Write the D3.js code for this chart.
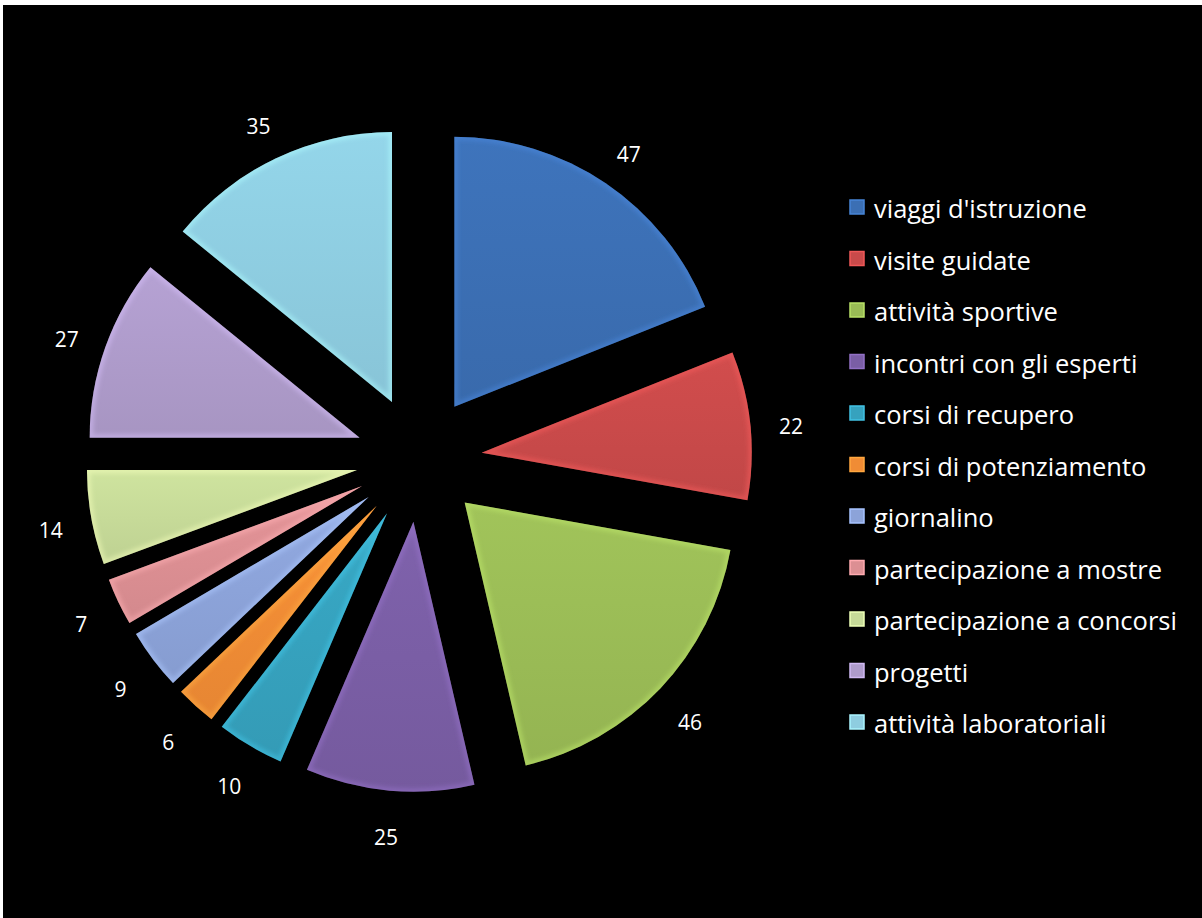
<!DOCTYPE html>
<html>
<head>
<meta charset="utf-8">
<script src="https://cdn.jsdelivr.net/npm/d3@7"></script>
<style>
  html, body { margin: 0; padding: 0; background: #fff; }
  svg { display: block; }
</style>
</head>
<body>
<svg id="chart"></svg>
<script>
// Chart data
const categories = [
    "viaggi d'istruzione", 'visite guidate', 'attività sportive', 'incontri con gli esperti',
    'corsi di recupero', 'corsi di potenziamento', 'giornalino', 'partecipazione a mostre',
    'partecipazione a concorsi', 'progetti', 'attività laboratoriali'
];
const values = [47, 22, 46, 25, 10, 6, 9, 7, 14, 27, 35];
const colors = [
    '#3b6fb4', '#c94a4a', '#9abc56', '#7a5ea5', '#36a2be', '#f08c35',
    '#8ca3d9', '#dc8f93', '#c6da98', '#ae9bcb', '#8ecde0'
];

const width = 1202;
const height = 918;
const cx = 419, cy = 459;
const radius = 270;
const explode = 63;
const labelRadius = 374;

const svg = d3.select('#chart')
    .attr('width', width)
    .attr('height', height);

// black plot area (thin white strip on top / left as in the original)
svg.append('rect')
    .attr('x', 3).attr('y', 5)
    .attr('width', width - 3).attr('height', height - 5)
    .attr('fill', '#000');

const defs = svg.append('defs');
defs.append('filter')
    .attr('id', 'soft')
    .attr('x', '-10%').attr('y', '-10%').attr('width', '120%').attr('height', '120%')
    .append('feGaussianBlur').attr('stdDeviation', 2.2);

const pie = d3.pie().sort(null).value(d => d)(values);
const arc = d3.arc().innerRadius(0).outerRadius(radius);

const g = svg.append('g').attr('transform', `translate(${cx},${cy})`);

const slices = g.selectAll('.slice')
    .data(pie)
    .enter()
    .append('g')
    .attr('class', 'slice')
    .attr('transform', d => {
        const a = (d.startAngle + d.endAngle) / 2;
        return `translate(${Math.sin(a) * explode},${-Math.cos(a) * explode})`;
    });

// clip paths so the bevel glow stays inside each slice
slices.each(function(d, i) {
    defs.append('clipPath')
        .attr('id', 'clip' + i)
        .append('path')
        .attr('d', arc(d));
    const grad = defs.append('linearGradient')
        .attr('id', 'grad' + i)
        .attr('x1', '0').attr('y1', '0').attr('x2', '0').attr('y2', '1');
    grad.append('stop').attr('offset', '0%').attr('stop-color', d3.color(colors[i]).brighter(0.12));
    grad.append('stop').attr('offset', '100%').attr('stop-color', d3.color(colors[i]).darker(0.12));
});

slices.append('path')
    .attr('d', arc)
    .attr('fill', (d, i) => `url(#grad${i})`);

slices.append('path')
    .attr('d', arc)
    .attr('fill', 'none')
    .attr('stroke', (d, i) => d3.color(colors[i]).brighter(0.6))
    .attr('stroke-width', 7)
    .attr('stroke-opacity', 0.5)
    .attr('clip-path', (d, i) => `url(#clip${i})`)
    .attr('filter', 'url(#soft)');

// value labels
g.selectAll('.value-label')
    .data(pie)
    .enter()
    .append('text')
    .attr('class', 'value-label')
    .attr('x', d => Math.sin((d.startAngle + d.endAngle) / 2) * labelRadius)
    .attr('y', d => -Math.cos((d.startAngle + d.endAngle) / 2) * labelRadius + 5)
    .attr('text-anchor', 'middle')
    .attr('dominant-baseline', 'central')
    .attr('fill', '#fff')
    .style('font-family', "'Open Sans', 'Noto Sans', sans-serif")
    .style('font-size', '21px')
    .text(d => d.data);

// legend
const legendY = d3.scalePoint()
    .domain(categories)
    .range([207, 722]);

const legend = svg.append('g').attr('class', 'legend');

const items = legend.selectAll('.item')
    .data(categories)
    .enter()
    .append('g')
    .attr('class', 'item')
    .attr('transform', d => `translate(850,${legendY(d)})`);

items.append('rect')
    .attr('x', 0).attr('y', -7)
    .attr('width', 14).attr('height', 14)
    .attr('fill', (d, i) => colors[i])
    .attr('stroke', (d, i) => d3.color(colors[i]).brighter(0.5))
    .attr('stroke-width', 1.5);

items.append('text')
    .attr('x', 24)
    .attr('y', 1)
    .attr('dominant-baseline', 'central')
    .attr('fill', '#fff')
    .style('font-family', "'Open Sans', 'Noto Sans', sans-serif")
    .style('font-size', '25.5px')
    .text(d => d);
</script>
</body>
</html>
